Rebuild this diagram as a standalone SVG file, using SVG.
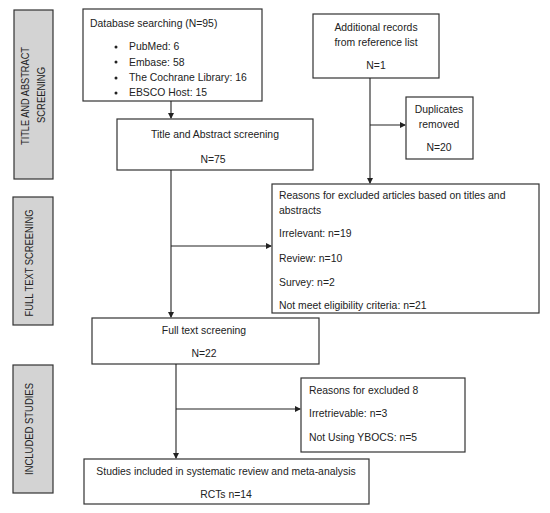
<svg xmlns="http://www.w3.org/2000/svg" width="550" height="513" viewBox="0 0 550 513">
<defs>
<marker id="arr" markerWidth="6" markerHeight="6" refX="5" refY="3" orient="auto" markerUnits="userSpaceOnUse">
<path d="M0,0 L6,3 L0,6 Z" fill="#222"/>
</marker>
<style>
.box{fill:#fff;stroke:#333;stroke-width:1.2}
.side{fill:#d3d3d3;stroke:#333;stroke-width:1.2}
text{font-family:"Liberation Sans",Arial,sans-serif;font-size:10.4px;fill:#222}
.c{text-anchor:middle}
.lbl{font-size:10.5px;text-anchor:middle}
.con{fill:none;stroke:#222;stroke-width:1.1}
</style>
</defs>
<rect width="550" height="513" fill="#fff"/>

<g id="stage-title">
<rect class="side" x="14" y="10" width="39" height="169"/>
<text class="lbl" transform="translate(29,96) rotate(-90)" textLength="98" lengthAdjust="spacingAndGlyphs">TITLE AND ABSTRACT</text>
<text class="lbl" transform="translate(45,95) rotate(-90)" textLength="56" lengthAdjust="spacingAndGlyphs">SCREENING</text>
</g>
<g id="stage-full">
<rect class="side" x="13" y="197" width="40" height="128"/>
<text class="lbl" transform="translate(33,263) rotate(-90)" textLength="107" lengthAdjust="spacingAndGlyphs">FULL TEXT SCREENING</text>
</g>
<g id="stage-included">
<rect class="side" x="13" y="365" width="40" height="128"/>
<text class="lbl" transform="translate(33,429) rotate(-90)" textLength="92" lengthAdjust="spacingAndGlyphs">INCLUDED STUDIES</text>
</g>

<g id="db-search">
<rect class="box" x="83" y="9" width="179" height="92"/>
<text x="90" y="27">Database searching (N=95)</text>
<circle cx="116" cy="47" r="1.5" fill="#222"/>
<text x="129" y="50">PubMed: 6</text>
<circle cx="116" cy="62" r="1.5" fill="#222"/>
<text x="129" y="66">Embase: 58</text>
<circle cx="116" cy="78" r="1.5" fill="#222"/>
<text x="129" y="81">The Cochrane Library: 16</text>
<circle cx="116" cy="93" r="1.5" fill="#222"/>
<text x="129" y="96">EBSCO Host: 15</text>
</g>

<g id="additional">
<rect class="box" x="313" y="14" width="126" height="64"/>
<text class="c" x="376" y="31">Additional records</text>
<text class="c" x="376" y="46">from reference list</text>
<text class="c" x="376" y="69">N=1</text>
</g>

<g id="duplicates">
<rect class="box" x="406" y="97" width="67" height="62"/>
<text class="c" x="439" y="113">Duplicates</text>
<text class="c" x="439" y="128">removed</text>
<text class="c" x="439" y="151">N=20</text>
</g>

<g id="title-abstract">
<rect class="box" x="117" y="119" width="196" height="51"/>
<text class="c" x="215" y="138">Title and Abstract screening</text>
<text class="c" x="213" y="163">N=75</text>
</g>

<g id="excluded-ta">
<rect class="box" x="272" y="184" width="267" height="129"/>
<text x="279" y="199">Reasons for excluded articles based on titles and</text>
<text x="279" y="214">abstracts</text>
<text x="279" y="237">Irrelevant: n=19</text>
<text x="279" y="262">Review: n=10</text>
<text x="279" y="286">Survey: n=2</text>
<text x="279" y="309">Not meet eligibility criteria: n=21</text>
</g>

<g id="full-text">
<rect class="box" x="92" y="318" width="227" height="46"/>
<text class="c" x="204" y="334">Full text screening</text>
<text class="c" x="204" y="357">N=22</text>
</g>

<g id="excluded-ft">
<rect class="box" x="301" y="378" width="164" height="74"/>
<text x="309" y="394">Reasons for excluded 8</text>
<text x="309" y="417">Irretrievable: n=3</text>
<text x="309" y="441">Not Using YBOCS: n=5</text>
</g>

<g id="included">
<rect class="box" x="84" y="459" width="285" height="45"/>
<text class="c" x="226" y="475">Studies included in systematic review and meta-analysis</text>
<text class="c" x="226" y="498">RCTs n=14</text>
</g>

<g id="connectors">
<line class="con" x1="171" y1="101" x2="171" y2="118" marker-end="url(#arr)"/>
<line class="con" x1="370" y1="78" x2="370" y2="183" marker-end="url(#arr)"/>
<line class="con" x1="370" y1="125" x2="405" y2="125" marker-end="url(#arr)"/>
<line class="con" x1="171" y1="170" x2="171" y2="317" marker-end="url(#arr)"/>
<line class="con" x1="171" y1="246" x2="271" y2="246" marker-end="url(#arr)"/>
<line class="con" x1="176" y1="364" x2="176" y2="458" marker-end="url(#arr)"/>
<line class="con" x1="176" y1="409" x2="300" y2="409" marker-end="url(#arr)"/>
</g>
</svg>
